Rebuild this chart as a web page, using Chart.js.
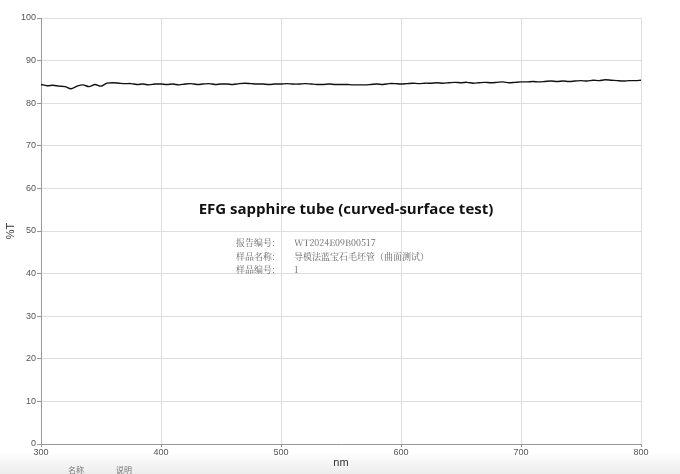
<!DOCTYPE html>
<html>
<head>
<meta charset="utf-8">
<script src="https://cdn.jsdelivr.net/npm/chart.js@4"></script>
<style>
  html, body { margin: 0; padding: 0; }
  body {
    width: 680px; height: 474px; position: relative; overflow: hidden;
    background: linear-gradient(to bottom, #ffffff 0px, #ffffff 452px, #ececec 474px);
  }
  #wrap { position: absolute; left: 0; top: 0; width: 680px; height: 474px; }
  .title {
    position: absolute; left: 0; width: 692px; top: 198px; text-align: center;
    font-family: "Open Sans", "Noto Sans", sans-serif; font-weight: 700; font-size: 15px; color: #111;
  }
  .info {
    position: absolute; font-family: "Noto Serif CJK SC", "Noto Sans CJK SC", serif;
    font-size: 9px; color: #666; line-height: 13.5px;
  }
  .foot {
    position: absolute; top: 464px; font-family: "Noto Sans CJK SC", sans-serif;
    font-size: 8px; color: #777;
  }
</style>
</head>
<body>
<div id="wrap"><canvas id="spectrum" width="680" height="474"></canvas></div>
<div class="title">EFG sapphire tube (curved-surface test)</div>
<div class="info" style="left:236px; top:236px;">报告编号:<br>样品名称:<br>样品编号:</div>
<div class="info" style="left:294px; top:236px;">WT2024E09B00517<br>导模法蓝宝石毛坯管（曲面测试）<br>1</div>
<div class="foot" style="left:68px;">名称</div>
<div class="foot" style="left:116px;">说明</div>
<script>
const wavelengths = [
  300, 305, 310, 315, 320, 325, 330, 335, 340, 345,
  350, 355, 360, 365, 370, 375, 380, 385, 390, 395,
  400, 405, 410, 415, 420, 425, 430, 435, 440, 445,
  450, 455, 460, 465, 470, 475, 480, 485, 490, 495,
  500, 505, 510, 515, 520, 525, 530, 535, 540, 545,
  550, 555, 560, 565, 570, 575, 580, 585, 590, 595,
  600, 605, 610, 615, 620, 625, 630, 635, 640, 645,
  650, 655, 660, 665, 670, 675, 680, 685, 690, 695,
  700, 705, 710, 715, 720, 725, 730, 735, 740, 745,
  750, 755, 760, 765, 770, 775, 780, 785, 790, 795, 800
];

const transmittance = [
  84.4, 84.1, 84.2, 84.0, 83.9, 83.4, 84.0, 84.3, 83.9, 84.4,
  84.0, 84.7, 84.8, 84.7, 84.6, 84.6, 84.4, 84.5, 84.3, 84.5,
  84.5, 84.4, 84.5, 84.3, 84.5, 84.6, 84.4, 84.5, 84.6, 84.4,
  84.5, 84.5, 84.4, 84.6, 84.7, 84.6, 84.5, 84.5, 84.4, 84.5,
  84.5, 84.6, 84.5, 84.5, 84.6, 84.5, 84.4, 84.4, 84.5, 84.4,
  84.4, 84.4, 84.3, 84.3, 84.3, 84.4, 84.5, 84.4, 84.6, 84.6,
  84.5, 84.6, 84.7, 84.6, 84.7, 84.7, 84.8, 84.7, 84.8, 84.9,
  84.8, 84.9, 84.7, 84.8, 84.9, 84.8, 84.9, 85.0, 84.8, 84.9,
  85.0, 85.0, 85.1, 85.0, 85.1, 85.2, 85.1, 85.2, 85.1, 85.2,
  85.3, 85.2, 85.4, 85.3, 85.5, 85.4, 85.3, 85.2, 85.3, 85.3, 85.4
];

const xTicks = [300, 400, 500, 600, 700, 800];
const yTicks = [0, 10, 20, 30, 40, 50, 60, 70, 80, 90, 100];

const tickFont = { family: "Liberation Sans, Arial, sans-serif", size: 9 };

new Chart(document.getElementById("spectrum"), {
  type: "line",
  data: {
    datasets: [
      {
        data: wavelengths.map((nm, i) => ({ x: nm, y: transmittance[i] })),
        borderColor: "#111111",
        borderWidth: 1.4,
        pointRadius: 0,
        tension: 0.3,
        fill: false,
      },
    ],
  },
  options: {
    responsive: false,
    animation: false,
    layout: { padding: { top: 18, right: 39, left: 0, bottom: 0 } },
    plugins: { legend: { display: false }, tooltip: { enabled: false } },
    scales: {
      x: {
        type: "linear",
        min: 300,
        max: 800,
        afterBuildTicks: (scale) => {
          scale.ticks = xTicks.map((v) => ({ value: v }));
        },
        afterFit: (scale) => {
          scale.height = 30;
        },
        grid: { color: "#dddddd", tickLength: 3, tickColor: "#999999" },
        border: { color: "#999999" },
        ticks: { font: tickFont, color: "#555555", padding: 0, maxRotation: 0 },
        title: {
          display: true,
          text: "nm",
          font: { family: "Liberation Sans, Arial, sans-serif", size: 11 },
          color: "#333333",
          padding: { top: 0, bottom: 4 },
        },
      },
      y: {
        min: 0,
        max: 100,
        afterBuildTicks: (scale) => {
          scale.ticks = yTicks.map((v) => ({ value: v }));
        },
        afterFit: (scale) => {
          scale.width = 41;
        },
        grid: { color: "#dddddd", tickLength: 4, tickColor: "#999999" },
        border: { color: "#999999" },
        ticks: { font: tickFont, color: "#555555", padding: 1 },
        title: {
          display: true,
          text: "%T",
          font: { family: "Liberation Sans, Arial, sans-serif", size: 11 },
          color: "#333333",
          padding: { top: 4, bottom: 0 },
        },
      },
    },
  },
});
</script>
</body>
</html>
